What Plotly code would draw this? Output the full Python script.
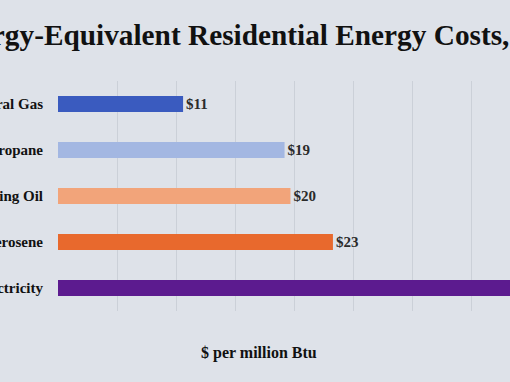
import plotly.graph_objects as go

fuels = ["Natural Gas", "Propane", "Heating Oil", "Kerosene", "Electricity"]
costs = [10.6, 19.2, 19.7, 23.3, 45.0]
cost_labels = ["$11", "$19", "$20", "$23", "$45"]
colors = ["#3a5bbf", "#a3b7e2", "#f2a47a", "#e8692d", "#5c1b8f"]

title_text = "Energy-Equivalent Residential Energy Costs, 2024"
x_title = "$ per million Btu"

W, H = 510, 382
L, R, T, B = 58, 0, 81, 71
pw, ph = W - L - R, H - T - B

serif = "Liberation Serif, Times New Roman, serif"
bg = "#dee2e9"

fig = go.Figure(
    go.Bar(
        x=costs,
        y=fuels,
        orientation="h",
        marker=dict(color=colors, line=dict(width=0)),
        text=cost_labels,
        textposition="outside",
        textfont=dict(family=serif, size=15, color="#2b2b2b", weight="bold"),
        cliponaxis=True,
    )
)

def px_x(x):
    return (x - L) / pw

def px_y(y):
    return 1 + (T - y) / ph

fig.add_annotation(
    text="<b>" + title_text + "</b>",
    xref="paper", yref="paper",
    x=px_x(-59), y=px_y(35),
    xanchor="left", yanchor="middle",
    showarrow=False,
    font=dict(family=serif, size=29.3, color="#111111"),
)
fig.add_annotation(
    text="<b>" + x_title + "</b>",
    xref="paper", yref="paper",
    x=px_x(259), y=px_y(353),
    xanchor="center", yanchor="middle",
    showarrow=False,
    font=dict(family=serif, size=16, color="#111111"),
)

fig.update_layout(
    template="none",
    width=W, height=H,
    margin=dict(l=L, r=R, t=T, b=B, pad=0),
    paper_bgcolor=bg,
    plot_bgcolor=bg,
    bargap=0.65,
    showlegend=False,
    xaxis=dict(
        range=[0, pw / 11.8],
        dtick=5,
        tick0=0,
        showgrid=True,
        gridcolor="#cbd0d8",
        gridwidth=1,
        zeroline=False,
        showline=False,
        showticklabels=False,
        ticks="",
        automargin=False,
        fixedrange=True,
    ),
    yaxis=dict(
        categoryorder="array",
        categoryarray=fuels,
        autorange="reversed",
        showgrid=False,
        zeroline=False,
        showline=False,
        ticks="outside",
        ticklen=11,
        tickcolor="rgba(0,0,0,0)",
        tickfont=dict(family=serif, size=15, color="#111111", weight="bold"),
        automargin=False,
    ),
)

fig.write_html(
    "out.html",
    config={"displayModeBar": False},
    post_script="document.body.style.margin='0';document.body.style.overflow='hidden';document.body.style.background='%s';" % bg,
)
